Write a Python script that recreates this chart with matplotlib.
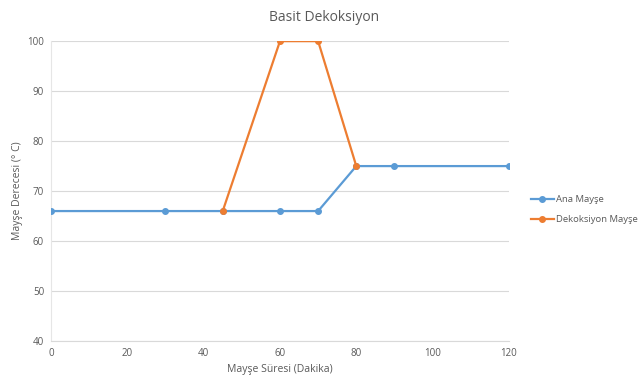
import matplotlib
matplotlib.use("Agg")
import matplotlib.pyplot as plt

ana_x = [0, 30, 45, 60, 70, 80, 90, 120]
ana_y = [66, 66, 66, 66, 66, 75, 75, 75]
dek_x = [45, 60, 70, 80]
dek_y = [66, 100, 100, 75]

plt.rcParams['font.family'] = ['Open Sans', 'DejaVu Sans']

fig = plt.figure(figsize=(6.4, 3.81), dpi=100)
ax = fig.add_axes([0.0797, 0.105, 0.7155, 0.787])

ax.plot(ana_x, ana_y, color='#5B9BD5', lw=1.6, marker='o', ms=4, label='Ana Mayşe', zorder=3)
ax.plot(dek_x, dek_y, color='#ED7D31', lw=1.6, marker='o', ms=4, label='Dekoksiyon Mayşe', zorder=4)

ax.set_xlim(0, 120)
ax.set_ylim(40, 100)
ax.set_xticks(range(0, 121, 20))
ax.set_yticks(range(40, 101, 10))
ax.yaxis.grid(True, color='#D9D9D9', lw=0.8)
ax.set_axisbelow(True)
for s in ['top', 'right']:
    ax.spines[s].set_visible(False)
ax.spines['bottom'].set_color('#D9D9D9')
ax.spines['left'].set_color('#E6E6E6')
ax.tick_params(length=0, labelsize=7, colors='#595959', pad=5)

fig.text(0.506, 0.955, 'Basit Dekoksiyon', fontsize=10, color='#595959', ha='center', va='center')
ax.set_xlabel('Mayşe Süresi (Dakika)', fontsize=7.5, color='#595959', labelpad=4)
ax.set_ylabel('Mayşe Derecesi (° C)', fontsize=7.5, color='#595959')
ax.yaxis.set_label_coords(-0.061, 0.5)

leg = fig.legend(loc='upper left', bbox_to_anchor=(0.829, 0.487), frameon=False,
                 fontsize=6.8, labelcolor='#595959', handlelength=2.5, handletextpad=0.15,
                 labelspacing=1.1, borderpad=0, borderaxespad=0)

fig.savefig('out.png', dpi=100)
